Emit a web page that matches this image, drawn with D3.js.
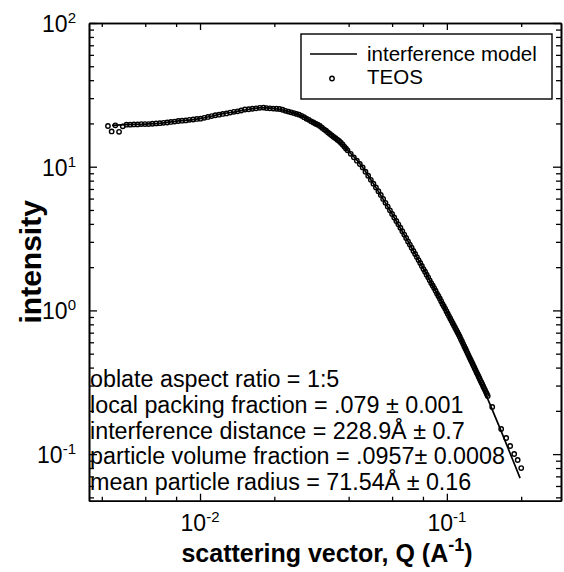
<!DOCTYPE html>
<meta charset="utf-8">
<head>
    <style>
        body { margin: 0; background: #fff; }
        svg { display: block; }
        text { font-family: "Liberation Sans", Arial, sans-serif; fill: #000; }
        .axis path, .axis line { stroke: #000; }
        .axis path { stroke-width: 1.6px; }
        .axis line { stroke-width: 1.3px; }
    </style>
    <script src="https://cdn.jsdelivr.net/npm/d3@7"></script>
</head>
<body>
<script>
    const width = 564
    const height = 572

    // TEOS scattering data (Q in 1/A, intensity)
    const teosQ = [
        0.004236, 0.004385, 0.004539, 0.004699, 0.004864, 0.005035, 0.005212, 0.005395, 0.005585, 0.005781,
        0.005984, 0.006194, 0.006412, 0.006637, 0.006871, 0.007112, 0.007362, 0.007621, 0.007889, 0.008166,
        0.008453, 0.008750, 0.009057, 0.009376, 0.009705, 0.010046, 0.010399, 0.010765, 0.011143, 0.011535,
        0.011940, 0.012359, 0.012794, 0.013243, 0.013709, 0.014191, 0.014689, 0.015205, 0.015740, 0.016293,
        0.016866, 0.017458, 0.018072,
        0.0186, 0.0192, 0.0198, 0.0204, 0.0210, 0.0216, 0.0222, 0.0228, 0.0234, 0.0240,
        0.0246, 0.0252, 0.0258, 0.0264, 0.0270, 0.0276, 0.0282, 0.0288, 0.0294, 0.0300,
        0.0306, 0.0312, 0.0318, 0.0324, 0.0330, 0.0336, 0.0342, 0.0348, 0.0354, 0.0360,
        0.0366, 0.0372, 0.0378, 0.0384, 0.0390, 0.0396,
        0.0408, 0.0420, 0.0432, 0.0444, 0.0456, 0.0468, 0.0480, 0.0492, 0.0504, 0.0516,
        0.0528, 0.0540, 0.0552, 0.0564, 0.0576, 0.0588, 0.0600, 0.0612, 0.0624, 0.0636,
        0.0648, 0.0660, 0.0672, 0.0684, 0.0696, 0.0708, 0.0720, 0.0732, 0.0744, 0.0756,
        0.0768, 0.0780, 0.0792, 0.0804, 0.0816, 0.0828, 0.0840, 0.0852, 0.0864, 0.0876,
        0.0888, 0.0900, 0.0912, 0.0924, 0.0936, 0.0948, 0.0960, 0.0972, 0.0984, 0.0996,
        0.1008, 0.1020, 0.1032, 0.1044, 0.1056, 0.1068, 0.1080, 0.1092, 0.1104, 0.1116,
        0.1128, 0.1140, 0.1152, 0.1164, 0.1176, 0.1188, 0.1200, 0.1212, 0.1224, 0.1236,
        0.1248, 0.1260, 0.1272, 0.1284, 0.1296, 0.1308, 0.1320, 0.1332, 0.1344, 0.1356,
        0.1368, 0.1380, 0.1392, 0.1404, 0.1416, 0.1428, 0.1440, 0.1452, 0.1464,
        0.1527, 0.1660, 0.1739, 0.1805, 0.1874, 0.1936, 0.2001
    ]
    const teosI = [
        19.2, 17.6, 19.4, 17.5, 19.1, 19.6, 19.6, 19.7, 19.7, 19.8,
        19.8, 19.8, 19.9, 20.0, 20.1, 20.2, 20.3, 20.5, 20.6, 20.8,
        20.9, 21.0, 21.2, 21.3, 21.5, 21.6, 21.9, 22.2, 22.5, 22.8,
        23.0, 23.3, 23.5, 23.8, 24.1, 24.3, 24.6, 25.0, 25.1, 25.3,
        25.5, 25.7, 25.8,
        25.6, 25.5, 25.4, 25.3, 25.2, 24.9, 24.5, 24.2, 23.9, 23.6,
        23.3, 23.0, 22.6, 22.1, 21.6, 21.2, 20.7, 20.3, 19.9, 19.6,
        19.2, 18.7, 18.2, 17.8, 17.3, 16.9, 16.5, 16.1, 15.8, 15.4,
        15.1, 14.7, 14.3, 13.8, 13.4, 13.0,
        12.29, 11.63, 11.01, 10.44, 9.88, 9.24, 8.65, 8.11, 7.62, 7.17,
        6.75, 6.36, 5.97, 5.61, 5.28, 4.97, 4.69, 4.43, 4.19, 3.97,
        3.76, 3.56, 3.37, 3.19, 3.02, 2.87, 2.73, 2.59, 2.47, 2.35,
        2.24, 2.14, 2.04, 1.94, 1.86, 1.77, 1.70, 1.62, 1.55, 1.49,
        1.43, 1.37, 1.31, 1.26, 1.21, 1.16, 1.11, 1.07, 1.03, 0.987,
        0.949, 0.913, 0.879, 0.846, 0.815, 0.785, 0.758, 0.731, 0.705, 0.680,
        0.656, 0.631, 0.608, 0.585, 0.563, 0.543, 0.524, 0.505, 0.487, 0.470,
        0.454, 0.439, 0.424, 0.410, 0.396, 0.383, 0.370, 0.359, 0.347, 0.336,
        0.325, 0.315, 0.306, 0.296, 0.287, 0.279, 0.270, 0.262, 0.254,
        0.213, 0.1495, 0.1294, 0.1139, 0.1002, 0.0910, 0.0800
    ]

    // interference model curve
    const modelQ = [0.0044, 0.0050, 0.0060, 0.0070, 0.0080, 0.0090, 0.010, 0.012, 0.014, 0.016,
        0.018, 0.020, 0.023, 0.026, 0.030, 0.035, 0.040, 0.045, 0.050, 0.060,
        0.070, 0.080, 0.090, 0.100, 0.115, 0.130, 0.147, 0.165, 0.185, 0.198]
    const modelI = [19.4, 19.6, 19.8, 20.1, 20.7, 21.1, 21.6, 23.1, 24.2, 25.2,
        25.8, 25.4, 24.1, 22.4, 19.6, 16.0, 12.8, 10.2, 7.78, 4.69,
        2.97, 1.98, 1.37, 0.974, 0.61, 0.392, 0.238, 0.148, 0.091, 0.068]

    const xMajor = [0.01, 0.1]
    const xMinor = [0.004, 0.006, 0.008, 0.02, 0.04, 0.06, 0.08, 0.2]
    const xLabels = ["-2", "-1"]
    const yMajor = [0.1, 1, 10, 100]
    const yMinor = [0.05, 0.06, 0.07, 0.08, 0.09, 0.2, 0.3, 0.4, 0.5, 0.6, 0.7, 0.8, 0.9,
        2, 3, 4, 5, 6, 7, 8, 9, 20, 30, 40, 50, 60, 70, 80, 90]
    const yLabels = ["-1", "0", "1", "2"]

    const notes = [
        "oblate aspect ratio = 1:5",
        "local packing fraction = .079 \u00b1 0.001",
        "interference distance = 228.9\u00c5 \u00b1 0.7",
        "particle volume fraction = .0957\u00b1 0.0008",
        "mean particle radius = 71.54\u00c5 \u00b1 0.16"
    ]

    const plot = { left: 89, right: 561, top: 23, bottom: 500.7 }

    const x = d3.scaleLog().domain([0.00355, 0.29]).range([plot.left, plot.right])
    const y = d3.scaleLog().domain([0.0474, 100]).range([plot.bottom, plot.top])

    const svg = d3.select("body").append("svg")
        .attr("width", width)
        .attr("height", height)

    svg.append("rect").attr("width", width).attr("height", height).attr("fill", "#fff")

    // frame + inward ticks on all four sides
    function addAxis(axisFn, scale, tr, values, size) {
        svg.append("g")
            .attr("class", "axis")
            .attr("transform", tr)
            .call(axisFn(scale).tickValues(values).tickSize(-size).tickSizeOuter(0).tickFormat(""))
    }
    addAxis(d3.axisBottom, x, `translate(0,${plot.bottom})`, xMinor, 4)
    addAxis(d3.axisBottom, x, `translate(0,${plot.bottom})`, xMajor, 7)
    addAxis(d3.axisTop, x, `translate(0,${plot.top})`, xMinor, 4)
    addAxis(d3.axisTop, x, `translate(0,${plot.top})`, xMajor, 7)
    addAxis(d3.axisLeft, y, `translate(${plot.left},0)`, yMinor, 5)
    addAxis(d3.axisLeft, y, `translate(${plot.left},0)`, yMajor, 8)
    addAxis(d3.axisRight, y, `translate(${plot.right},0)`, yMinor, 5)
    addAxis(d3.axisRight, y, `translate(${plot.right},0)`, yMajor, 8)

    // tick labels
    yMajor.forEach((v, i) => {
        const t = svg.append("text")
            .attr("x", 76)
            .attr("y", y(v) + 9)
            .attr("text-anchor", "end")
            .style("font-size", "23px")
        t.append("tspan").text("10")
        t.append("tspan").attr("dy", -9).style("font-size", "15px").text(yLabels[i])
    })
    xMajor.forEach((v, i) => {
        const t = svg.append("text")
            .attr("x", x(v))
            .attr("y", 531)
            .attr("text-anchor", "middle")
            .style("font-size", "23px")
        t.append("tspan").text("10")
        t.append("tspan").attr("dy", -9).style("font-size", "15px").text(xLabels[i])
    })

    // axis titles
    const xt = svg.append("text")
        .attr("x", (plot.left + plot.right) / 2 + 2)
        .attr("y", 562)
        .attr("text-anchor", "middle")
        .style("font-size", "25px")
        .style("font-weight", "bold")
    xt.append("tspan").text("scattering vector, Q (A")
    xt.append("tspan").attr("dy", -11).style("font-size", "18px").text("-1")
    xt.append("tspan").attr("dy", 11).text(")")

    svg.append("text")
        .attr("transform", `translate(41,${(plot.top + plot.bottom) / 2}) rotate(-90)`)
        .attr("text-anchor", "middle")
        .style("font-size", "30px")
        .style("font-weight", "bold")
        .text("intensity")

    // model line
    const line = d3.line()
        .x(d => x(d[0]))
        .y(d => y(d[1]))
        .curve(d3.curveMonotoneX)

    svg.append("path")
        .datum(modelQ.map((q, i) => [q, modelI[i]]))
        .attr("d", line)
        .attr("fill", "none")
        .attr("stroke", "#000")
        .attr("stroke-width", 1.7)

    // TEOS points
    svg.append("g").selectAll("circle")
        .data(teosQ.map((q, i) => [q, teosI[i]]))
        .enter()
        .append("circle")
        .attr("cx", d => x(d[0]))
        .attr("cy", d => y(d[1]))
        .attr("r", 2.2)
        .attr("fill", "none")
        .attr("stroke", "#000")
        .attr("stroke-width", 1.4)

    // fit parameters
    svg.append("g").selectAll("text")
        .data(notes)
        .enter()
        .append("text")
        .attr("x", 90)
        .attr("y", (d, i) => 387 + i * 25.8)
        .style("font-size", "23.3px")
        .text(d => d)

    // legend
    const lg = svg.append("g")
    lg.append("rect")
        .attr("x", 301).attr("y", 34)
        .attr("width", 251).attr("height", 65)
        .attr("fill", "#fff")
        .attr("stroke", "#000")
        .attr("stroke-width", 1.4)
    lg.append("line")
        .attr("x1", 310).attr("x2", 357)
        .attr("y1", 54).attr("y2", 54)
        .attr("stroke", "#000")
        .attr("stroke-width", 1.6)
    lg.append("circle")
        .attr("cx", 332).attr("cy", 78.5)
        .attr("r", 2.2)
        .attr("fill", "none")
        .attr("stroke", "#000")
        .attr("stroke-width", 1.4)
    lg.append("text").attr("x", 367).attr("y", 61).style("font-size", "20.5px").text("interference model")
    lg.append("text").attr("x", 367).attr("y", 84).style("font-size", "20.5px").text("TEOS")
</script>
</body>
